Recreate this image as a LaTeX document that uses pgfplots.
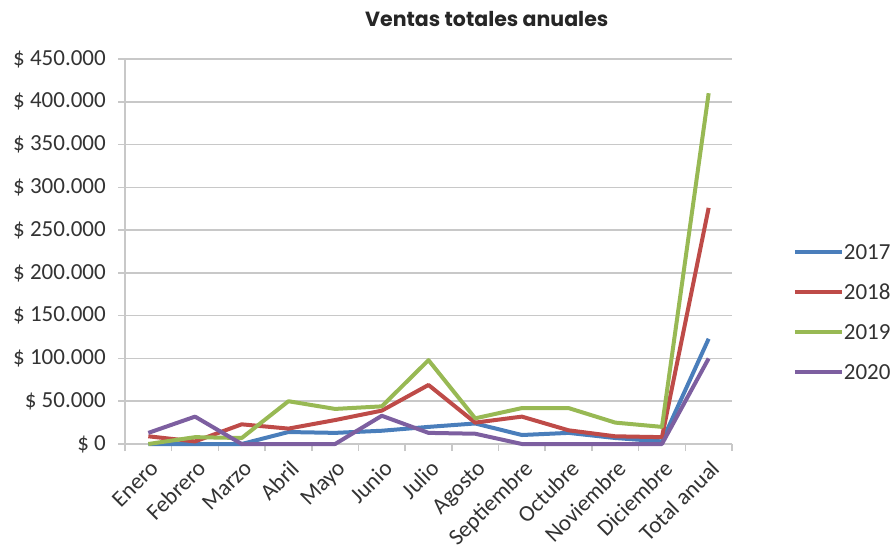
\documentclass[border=0pt]{standalone}
\usepackage{pgfplots}
\pgfplotsset{compat=1.18}
\usepackage{fontspec}
\setmainfont{Carlito}
\newfontfamily\titlefont{Poppins}
\definecolor{c17}{HTML}{4A7EBB}
\definecolor{c18}{HTML}{BE4B48}
\definecolor{c19}{HTML}{98B954}
\definecolor{c20}{HTML}{7D5FA0}
\definecolor{gridc}{HTML}{C8C8C8}
\begin{document}
\begin{tikzpicture}[x=1pt,y=1pt]
\path[use as bounding box] (0,0) rectangle (892,547);
\begin{axis}[
  at={(125pt,103pt)}, anchor=south west,
  scale only axis, width=607pt, height=385pt,
  xmin=-0.5, xmax=12.5, ymin=0, ymax=450000,
  scaled y ticks=false,
  axis lines=left, axis line style={gridc, line width=1.5pt, -},
  xtick={0,...,12},
  xticklabels={Enero,Febrero,Marzo,Abril,Mayo,Junio,Julio,Agosto,Septiembre,Octubre,Noviembre,Diciembre,Total anual},
  minor xtick={-0.5,0.5,...,12.5},
  major x tick style={draw=none},
  minor x tick style={gridc, line width=1.5pt},
  minor tick length=7pt,
  ytick={0,50000,...,450000},
  yticklabels={\$ 0,\$ 50.000,\$ 100.000,\$ 150.000,\$ 200.000,\$ 250.000,\$ 300.000,\$ 350.000,\$ 400.000,\$ 450.000},
  major y tick style={gridc, line width=1.5pt},
  major tick length=7pt,
  tick align=outside,
  ymajorgrids, grid style={gridc, line width=1.5pt},
  tick label style={font=\fontsize{23}{26}\selectfont, text=black!80},
  yticklabel style={inner sep=0pt, xshift=-12pt},
  xticklabel style={rotate=45, anchor=north east, inner sep=0pt, yshift=-6pt, xshift=-5pt},
  title={\titlefont\bfseries Ventas totales anuales},
  title style={at={(0.596,1)}, anchor=center, yshift=34pt, font=\fontsize{20.5}{24}\selectfont, text=black!85},
  legend style={at={(1.095,0.3416)}, anchor=west, draw=none, fill=none,
    font=\fontsize{23}{26}\selectfont, text=black!80,
    nodes={inner sep=0pt, text height=15pt, text depth=0pt},
    row sep=25pt},
  legend cell align=left,
  legend image code/.code={\draw[#1, line width=4pt] (0pt,0pt) -- (47pt,0pt);},
  every axis plot/.append style={line width=4pt, line join=round, mark=none},
  clip=false,
]
\addplot[c17] coordinates {(0,0) (1,0) (2,0) (3,14000) (4,13000) (5,15500) (6,20000) (7,24000) (8,10500) (9,13000) (10,7000) (11,3000) (12,123000)};
\addlegendentry{2017}
\addplot[c18] coordinates {(0,9000) (1,3000) (2,23000) (3,18000) (4,28000) (5,39000) (6,69000) (7,25000) (8,32000) (9,16000) (10,9000) (11,8000) (12,276000)};
\addlegendentry{2018}
\addplot[c19] coordinates {(0,0) (1,8000) (2,7000) (3,50000) (4,41000) (5,44000) (6,98000) (7,30000) (8,42000) (9,42000) (10,25000) (11,20000) (12,410000)};
\addlegendentry{2019}
\addplot[c20] coordinates {(0,13000) (1,32000) (2,0) (3,0) (4,0) (5,33000) (6,13000) (7,12000) (8,0) (9,0) (10,0) (11,0) (12,100000)};
\addlegendentry{2020}
\end{axis}
\end{tikzpicture}
\end{document}
